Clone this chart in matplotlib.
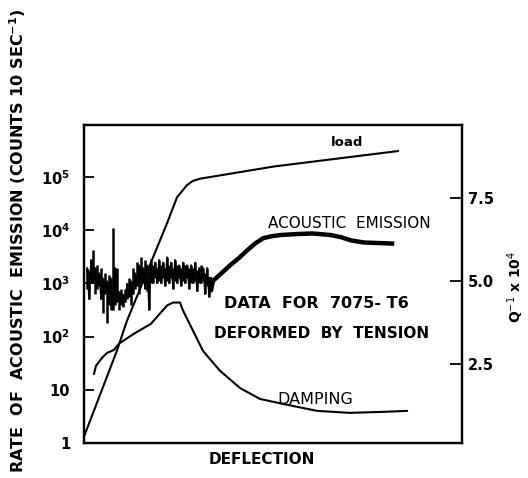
import numpy as np
from matplotlib import pyplot as plt
from matplotlib.ticker import NullLocator, FixedLocator

# deflection is unlabelled, so x is just an arbitrary 0..378 scale
# acoustic emission, noisy early part: low / high of each burst (log10 counts per 10 sec)
ae_noise_x = [3, 5, 7, 9, 11, 13, 15, 17, 19, 21, 23, 25, 27, 29, 31, 33, 35, 37, 39, 41,
              43, 45, 47, 49, 51, 53, 55, 57, 59, 61, 63, 65, 67, 69, 71, 73, 75, 77, 79, 81,
              83, 85, 87, 89, 91, 93, 95, 97, 99, 101, 103, 105, 107, 109, 111, 113, 115, 117,
              119, 121, 123, 125]
ae_noise_hi = [3.3, 3.25, 3.45, 3.62, 3.3, 3.35, 3.2, 3.3, 3.1, 3.2, 3.05, 3.15, 3.1, 4.05,
               3.3, 3.3, 2.85, 2.9, 2.8, 2.9, 3.0, 3.1, 3.05, 3.3, 3.2, 3.4, 3.35, 3.5, 3.3,
               3.45, 3.35, 3.3, 3.45, 3.35, 3.4, 3.3, 3.45, 3.35, 3.4, 3.3, 3.5, 3.35, 3.4,
               3.3, 3.45, 3.35, 3.35, 3.3, 3.4, 3.35, 3.35, 3.3, 3.35, 3.3, 3.4, 3.25, 3.3,
               3.35, 3.3, 3.2, 3.3, 3.1]
ae_noise_lo = [2.9, 2.7, 3.0, 3.0, 2.8, 2.9, 2.95, 2.7, 2.45, 2.8, 2.25, 2.6, 2.5, 2.5, 2.6,
               2.65, 2.5, 2.6, 2.55, 2.65, 2.7, 2.75, 2.6, 2.8, 2.9, 2.95, 2.8, 3.0, 3.0, 2.9,
               2.85, 2.5, 3.0, 3.0, 3.1, 3.0, 3.05, 3.0, 3.1, 2.95, 3.05, 3.0, 3.1, 2.9, 3.05,
               3.0, 3.1, 2.95, 3.05, 3.0, 3.1, 2.9, 3.0, 3.0, 3.05, 2.85, 3.0, 3.0, 3.05, 2.8,
               2.95, 2.75]

# acoustic emission, smooth later part
ae_x = [126, 127, 129, 135, 146, 155, 163, 171, 179, 188, 196, 213, 229, 247, 257, 267, 280, 295, 308]
ae_log = [3.08, 2.87, 3.05, 3.15, 3.34, 3.48, 3.62, 3.75, 3.85, 3.89, 3.91, 3.93, 3.94, 3.91,
          3.87, 3.81, 3.77, 3.76, 3.75]

# load curve (drawn against left log scale)
load_x = [0, 33, 43, 69, 83, 93, 103, 109, 116, 190, 314]
load_log = [0.12, 1.74, 2.30, 3.49, 4.13, 4.62, 4.85, 4.93, 4.97, 5.20, 5.49]

# damping, Q^-1 x 10^4 (right axis)
damp_x = [10, 12, 18, 23, 30, 35, 50, 67, 83, 89, 96, 99, 109, 119, 136, 156, 176, 199, 233, 266, 299, 323]
damp = [2.20, 2.44, 2.68, 2.83, 2.92, 3.11, 3.41, 3.71, 4.26, 4.35, 4.35, 4.11, 3.50, 2.89,
        2.29, 1.77, 1.44, 1.29, 1.08, 1.02, 1.05, 1.08]

left_ticks = [1, 10, 100, 1000, 10000, 100000]
left_labels = ['1', '10', r'$\mathbf{10^2}$', r'$\mathbf{10^3}$', r'$\mathbf{10^4}$', r'$\mathbf{10^5}$']
right_ticks = [2.5, 5.0, 7.5]
right_labels = ['2.5', '5.0', '7.5']

W, H = 528, 478
fig = plt.figure(figsize=(W / 100, H / 100), dpi=100)
ax = fig.add_axes([84 / W, 1 - 443 / H, 378 / W, 318 / H])

# noisy bursts: vertical strokes plus a zigzag joining them
hi = 10 ** np.array(ae_noise_hi)
lo = 10 ** np.array(ae_noise_lo)
ax.vlines(ae_noise_x, lo, hi, color='black', lw=1.8)
zig = np.where(np.arange(len(ae_noise_x)) % 2 == 0, hi, lo)
ax.plot(ae_noise_x, zig, color='black', lw=1.0)
ax.plot(ae_x, 10 ** np.array(ae_log), color='black', lw=3.2)
ax.plot(load_x, 10 ** np.array(load_log), color='black', lw=1.5)

ax.set_yscale('log')
ax.set_xlim(0, 378)
ax.set_ylim(1, 10 ** 5.98)
ax.yaxis.set_major_locator(FixedLocator(left_ticks))
ax.yaxis.set_minor_locator(NullLocator())
ax.set_yticklabels(left_labels)
ax.set_xticks([])
ax.tick_params(axis='y', direction='in', length=7, width=1.3, pad=10, labelsize=10.5)
for lab in ax.get_yticklabels():
    lab.set_fontweight('bold')

ax2 = ax.twinx()
ax2.plot(damp_x, damp, color='black', lw=1.5)
ax2.set_ylim(0.11, 9.71)
ax2.set_yticks(right_ticks)
ax2.set_yticklabels(right_labels, fontweight='bold')
ax2.tick_params(axis='y', direction='in', length=9, width=1.3, pad=4, labelsize=10.5)

for a in (ax, ax2):
    for s in a.spines.values():
        s.set_linewidth(1.6)

def ftext(px, py, s, **kw):
    fig.text(px / W, 1 - py / H, s, ha='center', va='center', **kw)

ftext(347, 143, 'load', fontsize=9.5, fontweight='bold')
ftext(349, 224, 'ACOUSTIC  EMISSION', fontsize=11)
ftext(316, 303, 'DATA  FOR  7075- T6', fontsize=11.5, fontweight='bold')
ftext(322, 333, 'DEFORMED  BY  TENSION', fontsize=11, fontweight='bold')
ftext(315, 399, 'DAMPING', fontsize=11.5)
ftext(262, 460, 'DEFLECTION', fontsize=11, fontweight='bold')
ftext(18, 241, r'RATE  OF  ACOUSTIC  EMISSION (COUNTS 10 SEC$^{\mathbf{-1}}$)',
      fontsize=11.5, fontweight='bold', rotation=90)
fig.text(526 / W, 1 - 287 / H, r'Q$^{-1}$ x 10$^4$', rotation=90, ha='right', va='center',
         fontsize=10, fontweight='bold')

fig.savefig('out.png', dpi=100)
